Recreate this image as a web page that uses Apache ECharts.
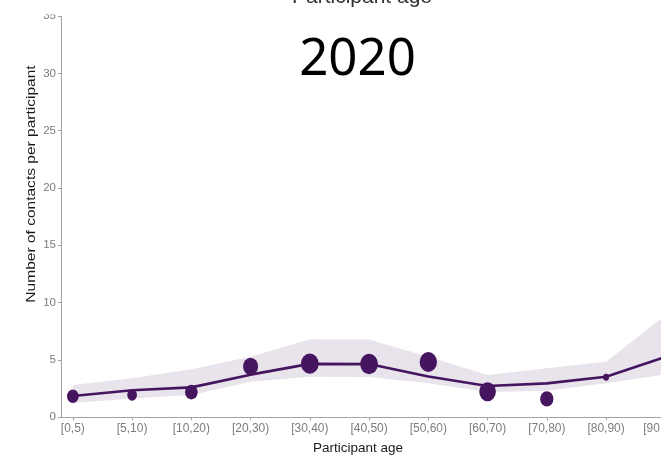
<!DOCTYPE html>
<html>
<head>
<meta charset="utf-8">
<script src="https://cdn.jsdelivr.net/npm/echarts@6/dist/echarts.min.js"></script>
<style>
  html, body { margin: 0; padding: 0; background: #fff; }
  #chart { width: 661px; height: 456px; }
</style>
</head>
<body>
<div id="chart"></div>
<script>
// Contacts per participant by age group, year 2020
const ageGroups = ['[0,5)', '[5,10)', '[10,20)', '[20,30)', '[30,40)', '[40,50)', '[50,60)', '[60,70)', '[70,80)', '[80,90)', '[90,100)'];
const fittedMean = [1.86, 2.36, 2.61, 3.72, 4.66, 4.64, 3.56, 2.73, 2.96, 3.54, 5.26];
const fittedLower = [1.25, 1.65, 1.94, 3.10, 3.54, 3.52, 2.96, 2.20, 2.32, 2.97, 3.74];
const fittedUpper = [2.82, 3.40, 4.18, 5.29, 6.80, 6.78, 5.28, 3.69, 4.27, 4.85, 8.90];
const observedMean = [1.83, 1.94, 2.20, 4.44, 4.68, 4.65, 4.82, 2.23, 1.60, 3.49];
const participantWeight = [0.66, 0.55, 0.72, 0.85, 1.0, 1.0, 0.98, 0.94, 0.75, 0.34];

const purple = '#46155f';
const axisGrey = '#a3a3a3';
const labelGrey = '#7d7d7d';
const tickFont = '"Liberation Sans Narrow", "Liberation Sans", Arial, sans-serif';
const titleFont = '"Liberation Sans", Arial, sans-serif';

const idx = ageGroups.map((_, i) => i);
const pairs = arr => arr.map((v, i) => [i, v]);
const bandRows = idx.map(i => [i, fittedLower[i], fittedUpper[i]]);

// the whole ribbon is drawn as one polygon, from the first row's render call
function renderBand(params, api) {
  if (params.dataIndex !== 0) return null;
  const upper = bandRows.map(r => api.coord([r[0], r[2]]));
  const lower = bandRows.map(r => api.coord([r[0], r[1]])).reverse();
  return {
    type: 'polygon',
    shape: { points: upper.concat(lower) },
    style: { fill: 'rgba(70, 21, 95, 0.12)' }
  };
}

const chart = echarts.init(document.getElementById('chart'), null, { renderer: 'canvas' });

chart.setOption({
  animation: false,
  backgroundColor: '#fff',
  grid: { left: 61, top: 16, right: -28, bottom: 38.7, containLabel: false, outerBoundsMode: 'none' },
  xAxis: {
    type: 'value',
    min: -0.2,
    max: 10.4,
    splitLine: { show: false },
    axisLine: { show: true, onZero: false, lineStyle: { color: axisGrey, width: 1 } },
    axisTick: { show: true, length: 3, customValues: idx, lineStyle: { color: axisGrey } },
    axisLabel: {
      customValues: idx,
      formatter: v => ageGroups[Math.round(v)],
      color: labelGrey,
      fontFamily: tickFont,
      fontSize: 12,
      margin: 5,
      hideOverlap: false
    }
  },
  yAxis: {
    type: 'value',
    min: 0,
    max: 35,
    interval: 5,
    splitLine: { show: false },
    axisLine: { show: true, onZero: false, lineStyle: { color: axisGrey, width: 1 } },
    axisTick: { show: true, length: 3, lineStyle: { color: axisGrey } },
    axisLabel: {
      color: labelGrey,
      fontFamily: tickFont,
      fontSize: 11.5,
      margin: 5,
      showMaxLabel: true
    }
  },
  series: [
    {
      type: 'custom',
      renderItem: renderBand,
      data: bandRows,
      encode: { x: 0, y: [1, 2] },
      silent: true,
      z: 1
    },
    {
      type: 'line',
      data: pairs(fittedMean),
      symbol: 'none',
      lineStyle: { color: purple, width: 2.6 },
      z: 3
    },
    {
      type: 'scatter',
      data: pairs(observedMean),
      symbolSize: (val, p) => {
        const w = 17.7 * participantWeight[p.dataIndex];
        return [w, w * 1.15];
      },
      itemStyle: { color: purple, opacity: 1 },
      z: 4
    }
  ],
  graphic: [
    // clip strip above the panel
    { type: 'rect', left: 0, top: 7, shape: { width: 59, height: 7.5 }, style: { fill: '#fff' }, z: 100 },
    {
      type: 'text', x: 362, y: -13, z: 101,
      style: { text: 'Participant age', fill: '#333', font: '21px ' + titleFont, textAlign: 'center', textVerticalAlign: 'top' }
    },
    {
      type: 'text', x: 357.5, y: 60, z: 101,
      style: { text: '2020', fill: '#000', font: '51px "Noto Sans", "Open Sans", sans-serif', textAlign: 'center', textVerticalAlign: 'middle' }
    },
    {
      type: 'text', x: 358, y: 448, z: 101,
      style: { text: 'Participant age', fill: '#1a1a1a', font: '13.5px ' + titleFont, textAlign: 'center', textVerticalAlign: 'middle' }
    },
    {
      type: 'text', x: 31, y: 184, rotation: Math.PI / 2, scaleX: 1.15, z: 101,
      style: { text: 'Number of contacts per participant', fill: '#1a1a1a', font: '13.5px ' + titleFont, textAlign: 'center', textVerticalAlign: 'middle' }
    }
  ]
});
</script>
</body>
</html>
